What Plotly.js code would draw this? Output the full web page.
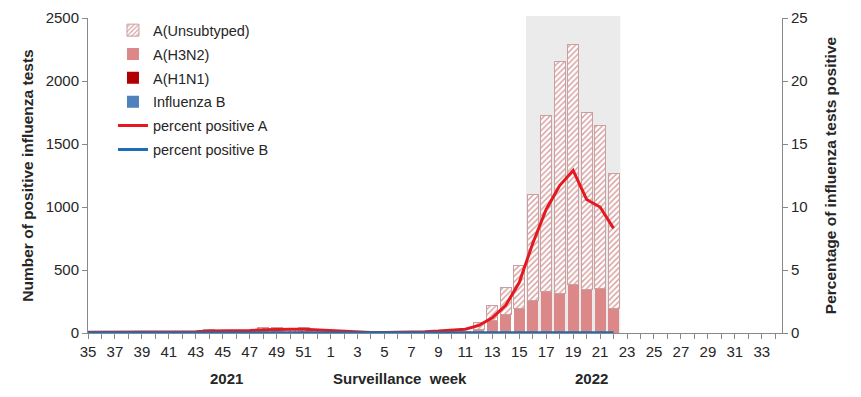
<!DOCTYPE html>
<html>
<head>
<meta charset="utf-8">
<script src="https://cdn.plot.ly/plotly-3.0.1.min.js"></script>
<style>html,body{margin:0;padding:0;background:#fff;}#chart{width:861px;height:397px;}</style>
</head>
<body>
<div id="chart"></div>
<script>
// Surveillance weeks: 35..52 of 2021, then 1..34 of 2022
const weeks = [35,36,37,38,39,40,41,42,43,44,45,46,47,48,49,50,51,52,
  1,2,3,4,5,6,7,8,9,10,11,12,13,14,15,16,17,18,19,20,21,22,23,24,25,26,27,28,29,30,31,32,33,34];

// Counts of positive tests per week (null = no data yet)
const unsubtyped = [0,0,1,0,1,1,1,2,3,11,13,13,14,28,31,18,31,14,
  11,10,3,2,2,2,4,6,8,9,12,53,119,213,341,846,1400,1841,1904,1405,1289,1066,
  null,null,null,null,null,null,null,null,null,null,null,null];
const h3n2 = [0,0,0,0,0,0,0,0,2,5,6,5,6,10,8,6,8,5,
  3,2,1,1,0,1,1,2,2,3,3,29,103,150,196,257,328,315,386,346,354,196,
  null,null,null,null,null,null,null,null,null,null,null,null];
const h1n1 = [0,0,0,0,0,0,0,0,0,0,0,0,0,0,0,0,0,0,
  0,0,0,0,0,0,0,0,0,0,0,0,0,0,0,0,0,0,0,0,0,0,
  null,null,null,null,null,null,null,null,null,null,null,null];
const fluB = [0,0,0,0,0,0,0,0,3,8,3,2,2,2,1,1,1,1,
  1,0,0,0,0,0,0,0,0,0,0,0,0,0,0,0,0,0,0,0,0,0,
  null,null,null,null,null,null,null,null,null,null,null,null];

// Percentage of tests positive
const pctA = [0.05,0.05,0.05,0.05,0.05,0.05,0.05,0.08,0.1,0.15,0.15,0.15,0.2,0.25,0.3,0.3,0.3,0.25,
  0.2,0.12,0.05,0.04,0.04,0.05,0.07,0.1,0.15,0.2,0.3,0.6,1.2,2.2,4.0,7.1,9.8,11.7,12.9,10.6,10.0,8.3,
  null,null,null,null,null,null,null,null,null,null,null,null];
const pctB = [0.02,0.02,0.02,0.02,0.02,0.02,0.02,0.02,0.03,0.04,0.03,0.03,0.03,0.03,0.02,0.02,0.02,0.02,
  0.02,0.01,0.01,0.01,0.01,0.01,0.01,0.01,0.01,0.01,0.01,0.01,0.01,0.01,0.01,0.01,0.01,0.01,0.01,0.01,0.01,0.01,
  null,null,null,null,null,null,null,null,null,null,null,null];

const seasonStartWeek = 16, seasonEndWeek = 22;

const idx = weeks.map((w,i)=>i);
const tickText = weeks.map((w,i)=> i%2===0 ? String(w) : "");
const iStart = weeks.indexOf(seasonStartWeek, 18);
const iEnd = weeks.indexOf(seasonEndWeek, 18);

const FONT = "Liberation Sans, Arial, sans-serif";
const TXT = "#262626";

const traces = [
  {type:"bar", name:"Influenza B", x:idx, y:fluB, marker:{color:"#4f81bd"}, legendrank:4, legendgroup:"g4"},
  {type:"bar", name:"A(H1N1)", x:idx, y:h1n1, marker:{color:"#b00000"}, legendrank:3, legendgroup:"g3"},
  {type:"bar", name:"A(H3N2)", x:idx, y:h3n2, marker:{color:"#dc8888"}, legendrank:2, legendgroup:"g2"},
  {type:"bar", name:"A(Unsubtyped)", x:idx, y:unsubtyped,
    marker:{color:"#ffffff", line:{color:"#c9a0a0", width:1},
      pattern:{shape:"/", fgcolor:"#d79a9a", bgcolor:"#ffffff", size:4, solidity:0.35}},
    legendrank:1, legendgroup:"g1"},
  {type:"scatter", mode:"lines", name:"percent positive A", x:idx, y:pctA, yaxis:"y2",
    line:{color:"#e3191f", width:3}, legendrank:5, legendgroup:"g5"},
  {type:"scatter", mode:"lines", name:"percent positive B", x:idx, y:pctB, yaxis:"y2",
    line:{color:"#1b6db5", width:3}, legendrank:6, legendgroup:"g6"}
];

const layout = {
  width:861, height:397,
  margin:{l:88, r:79, t:18, b:64},
  paper_bgcolor:"#ffffff", plot_bgcolor:"#ffffff",
  font:{family:FONT, size:15, color:TXT},
  barmode:"stack", bargap:0.18,
  showlegend:true,
  legend:{x:0.036, y:1.012, xanchor:"left", yanchor:"top", bgcolor:"rgba(0,0,0,0)",
    font:{family:FONT, size:14.5, color:TXT}, traceorder:"grouped", tracegroupgap:2, itemwidth:30},
  xaxis:{range:[0, 51.5], tickmode:"array", tickvals:idx, ticktext:tickText,
    ticks:"outside", ticklen:5, tickcolor:"#888", showline:true, linecolor:"#888", linewidth:1,
    showgrid:false, zeroline:false, tickangle:0, tickfont:{size:15, color:TXT}},
  yaxis:{range:[0,2500], dtick:500, ticks:"outside", ticklen:5, tickcolor:"#888",
    showline:true, linecolor:"#888", showgrid:false, zeroline:false,
    tickfont:{size:15, color:TXT},
    title:{text:"<b>Number of positive influenza tests</b>", font:{size:15.5, color:TXT}, standoff:8}},
  yaxis2:{range:[0,25], dtick:5, overlaying:"y", side:"right", ticks:"outside", ticklen:5, tickcolor:"#888",
    showline:true, linecolor:"#888", showgrid:false, zeroline:false,
    tickfont:{size:15, color:TXT},
    title:{text:"<b>Percentage of influenza tests positive</b>", font:{size:15.5, color:TXT}, standoff:18}},
  shapes:[{type:"rect", xref:"x", yref:"paper", x0:iStart-0.5, x1:iEnd+0.5, y0:0, y1:1.006,
    fillcolor:"#ebebeb", line:{width:0}, layer:"below"}],
  annotations:[
    {text:"<b>2021</b>", xref:"paper", yref:"paper", x:(226-88)/694, y:(333-378)/315, showarrow:false, xanchor:"center", yanchor:"middle", font:{size:15, color:TXT}},
    {text:"<b>Surveillance  week</b>", xref:"paper", yref:"paper", x:(400-88)/694, y:(333-378)/315, showarrow:false, xanchor:"center", yanchor:"middle", font:{size:15, color:TXT}},
    {text:"<b>2022</b>", xref:"paper", yref:"paper", x:(591-88)/694, y:(333-378)/315, showarrow:false, xanchor:"center", yanchor:"middle", font:{size:15, color:TXT}}
  ]
};

Plotly.newPlot("chart", traces, layout, {displayModeBar:false, staticPlot:true});
</script>
</body>
</html>
